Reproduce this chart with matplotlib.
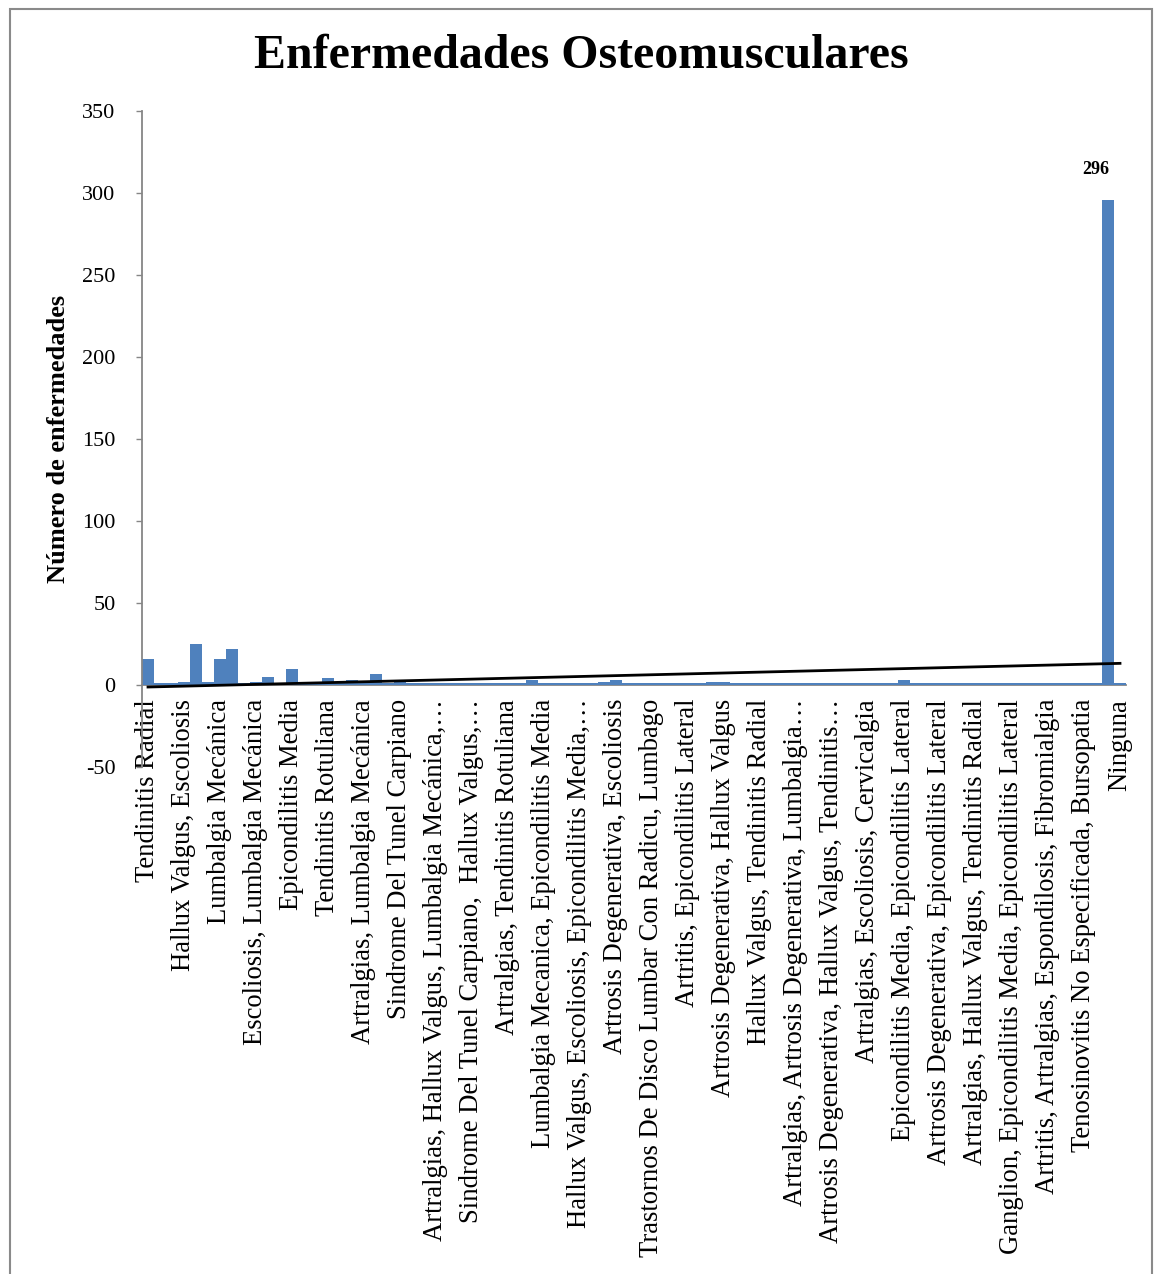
import matplotlib
matplotlib.use("Agg")
import matplotlib.pyplot as plt
import numpy as np

plt.rcParams['font.family'] = ['Liberation Serif', 'DejaVu Serif']
plt.rcParams['axes.unicode_minus'] = False

# ---------------- data ----------------
counts = [16, 1, 1, 2, 25, 2, 16, 22, 1, 2,
          5, 1, 10, 1, 2, 4, 1, 3, 2, 7,
          1, 2, 1, 1, 1, 1, 1, 1, 1, 1,
          1, 1, 3, 1, 1, 1, 1, 1, 2, 3,
          1, 1, 1, 1, 1, 1, 1, 2, 2, 1,
          1, 1, 1, 1, 1, 1, 1, 1, 1, 1,
          1, 1, 1, 3, 1, 1, 1, 1, 1, 1,
          1, 1, 1, 1, 1, 1, 1, 1, 1, 1,
          296, 1]

# only every third category label is shown on the axis
shown_labels = [
    "Tendinitis Radial",
    "Hallux Valgus, Escoliosis",
    "Lumbalgia Mecánica",
    "Escoliosis, Lumbalgia Mecánica",
    "Epicondilitis Media",
    "Tendinitis Rotuliana",
    "Artralgias, Lumbalgia Mecánica",
    "Sindrome Del Tunel Carpiano",
    "Artralgias, Hallux Valgus, Lumbalgia Mecánica,…",
    "Sindrome Del Tunel Carpiano,  Hallux Valgus,…",
    "Artralgias, Tendinitis Rotuliana",
    "Lumbalgia Mecanica, Epicondilitis Media",
    "Hallux Valgus, Escoliosis, Epicondilitis Media,…",
    "Artrosis Degenerativa, Escoliosis",
    "Trastornos De Disco Lumbar Con Radicu, Lumbago",
    "Artritis, Epicondilitis Lateral",
    "Artrosis Degenerativa, Hallux Valgus",
    "Hallux Valgus, Tendinitis Radial",
    "Artralgias, Artrosis Degenerativa, Lumbalgia…",
    "Artrosis Degenerativa, Hallux Valgus, Tendinitis…",
    "Artralgias, Escoliosis, Cervicalgia",
    "Epicondilitis Media, Epicondilitis Lateral",
    "Artrosis Degenerativa, Epicondilitis Lateral",
    "Artralgias, Hallux Valgus, Tendinitis Radial",
    "Ganglion, Epicondilitis Media, Epicondilitis Lateral",
    "Artritis, Artralgias, Espondilosis, Fibromialgia",
    "Tenosinovitis No Especificada, Bursopatia",
    "Ninguna",
]
label_step = 3
labelled_value = 296

y_ticks = [-50, 0, 50, 100, 150, 200, 250, 300, 350]

BLUE = "#4F81BD"
GRAY = "#868686"

W, H = 1156, 1274
fig = plt.figure(figsize=(W / 100, H / 100), dpi=100)
ax = fig.add_axes([142 / W, 1 - 767 / H, (1126 - 142) / W, (767 - 111) / H])

# spines first: set_position resets the tick styling
for s in ["top", "right"]:
    ax.spines[s].set_visible(False)
ax.spines["bottom"].set_position(("data", 0))
ax.spines["bottom"].set_color(GRAY)
ax.spines["bottom"].set_linewidth(1.3)
ax.spines["left"].set_color(GRAY)
ax.spines["left"].set_linewidth(1.3)
ax.spines["bottom"].set_zorder(1)

x = np.arange(len(counts))
ax.bar(x, counts, width=1.0, color=BLUE, linewidth=0, zorder=2)

# linear trendline like Excel
coef = np.polyfit(x, counts, 1)
ax.plot(x, np.polyval(coef, x), color="black", lw=2, zorder=3)

# data label for the big bar
i_big = counts.index(labelled_value)
ax.annotate(str(labelled_value), xy=(i_big, labelled_value), xytext=(-9, 22),
            textcoords="offset points", ha="center", va="center",
            fontsize=13, fontweight="bold")

ax.set_xlim(-0.5, len(counts) - 0.5)
ax.set_ylim(-50, 350)
ax.set_yticks(y_ticks)
ax.set_yticklabels([str(v) for v in y_ticks], fontsize=16)
ax.set_xticks(x[::label_step])
ax.set_xticklabels(shown_labels, rotation=90, va="top", ha="center", fontsize=19.2)

ax.tick_params(axis="x", length=0, pad=10)
ax.tick_params(axis="y", length=4, width=1, color=GRAY, direction="out", pad=15)

ax.set_ylabel("Número de enfermedades", fontsize=19, fontweight="bold")
ax.yaxis.set_label_coords(-72 / (1126 - 142), 0.5)

fig.text(0.503, 1 - 56 / H, "Enfermedades Osteomusculares", ha="center",
         va="center", fontsize=34.5, fontweight="bold")

# chart border (bottom edge is cut off in the source)
fig.add_artist(plt.Rectangle((10 / W, -0.05), (1152 - 10) / W, 1.05 - 9 / H,
                             transform=fig.transFigure, fill=False,
                             edgecolor="#8a8a8a", linewidth=1.5))

fig.savefig("out.png", dpi=100)
